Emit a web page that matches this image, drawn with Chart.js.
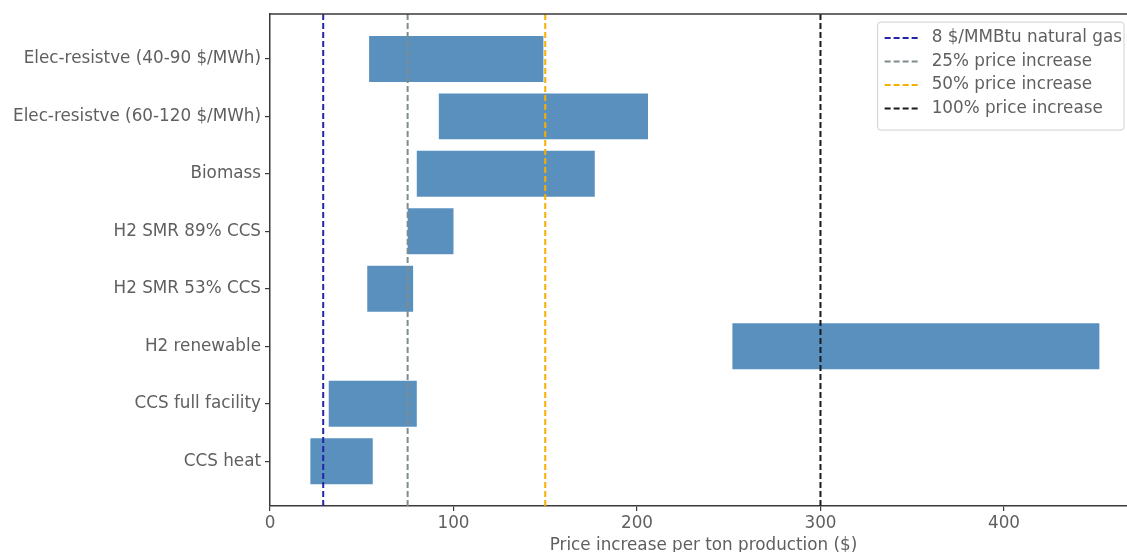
<!DOCTYPE html>
<html>
<head>
<meta charset="utf-8">
<script src="https://cdn.jsdelivr.net/npm/chart.js@4.4.1/dist/chart.umd.min.js"></script>
<style>
html,body{margin:0;padding:0;background:#fff;overflow:hidden;width:1127px;height:552px;}
canvas{display:block;}
</style>
</head>
<body>
<canvas id="c" width="1150" height="558"></canvas>
<script>
const categories = [
  'Elec-resistve (40-90 $/MWh)',
  'Elec-resistve (60-120 $/MWh)',
  'Biomass',
  'H2 SMR 89% CCS',
  'H2 SMR 53% CCS',
  'H2 renewable',
  'CCS full facility',
  'CCS heat'
];
const lowValues  = [54, 92, 80, 75, 53, 252, 32, 22];
const highValues = [149, 206, 177, 100, 78, 452, 80, 56];

const refLabels = ['8 $/MMBtu natural gas', '25% price increase', '50% price increase', '100% price increase'];
const refValues = [29, 75, 150, 300];
const refColors = ['#2424a8', '#7f8c8d', '#f5b000', '#1a1a1a'];

const xTicks = [0, 100, 200, 300, 400];
const xMin = 0, xMax = 472.5;
const yMin = -0.78, yMax = categories.length - 1 + 0.78;

const FONT = 'DejaVu Sans';
const FS = 16.8;
const TXT = '#5f5f5f';
const FRAME = '#3a3a3a';

const barData = categories.map((c, i) => ({ y: i, x: [lowValues[i], highValues[i]] }));

const lineSets = refValues.map((v, k) => ({
  type: 'line',
  label: refLabels[k],
  data: [{ x: v, y: yMin }, { x: v, y: yMax }],
  borderColor: refColors[k],
  borderWidth: 2,
  borderDash: [6, 3],
  pointRadius: 0,
  fill: false,
  order: 0
}));

const framePlugin = {
  id: 'frameLegend',
  afterDatasetsDraw(chart) {
    const { ctx, chartArea } = chart;
    ctx.save();
    ctx.strokeStyle = FRAME;
    ctx.lineWidth = 1.5;
    ctx.beginPath();
    ctx.moveTo(chartArea.left, chartArea.top);
    ctx.lineTo(chartArea.right, chartArea.top);
    ctx.lineTo(chartArea.right, chartArea.bottom);
    ctx.stroke();

    // legend
    ctx.font = FS + 'px ' + FONT;
    const lineLen = 35, padL = 7, gap = 12, padR = 2, rowH = 23.5;
    let maxW = 0;
    refLabels.forEach(t => { maxW = Math.max(maxW, ctx.measureText(t).width); });
    const w = padL + lineLen + gap + maxW + padR;
    const h = 14 + rowH * refLabels.length;
    const bx = chartArea.right - 13 - w;
    const by = chartArea.top + 8;
    ctx.fillStyle = 'rgba(255,255,255,0.85)';
    ctx.strokeStyle = '#d0d0d0';
    ctx.lineWidth = 1;
    ctx.beginPath();
    ctx.roundRect(bx, by, w, h, 3);
    ctx.fill();
    ctx.stroke();
    ctx.textBaseline = 'middle';
    ctx.textAlign = 'left';
    refLabels.forEach((t, k) => {
      const cy = by + 16 + k * rowH;
      ctx.strokeStyle = refColors[k];
      ctx.lineWidth = 2;
      ctx.setLineDash([6, 3]);
      ctx.beginPath();
      ctx.moveTo(bx + padL, cy);
      ctx.lineTo(bx + padL + lineLen, cy);
      ctx.stroke();
      ctx.setLineDash([]);
      ctx.fillStyle = TXT;
      ctx.fillText(t, bx + padL + lineLen + gap, cy);
    });
    ctx.restore();
  }
};

new Chart(document.getElementById('c'), {
  type: 'bar',
  data: {
    datasets: [
      {
        label: 'range',
        data: barData,
        indexAxis: 'y',
        backgroundColor: '#5a90be',
        borderWidth: 0,
        categoryPercentage: 1,
        barPercentage: 0.8,
        order: 1
      },
      ...lineSets
    ]
  },
  options: {
    responsive: false,
    animation: false,
    indexAxis: 'y',
    layout: { padding: { top: 12, right: 13, left: 0, bottom: 0 } },
    plugins: {
      legend: { display: false },
      tooltip: { enabled: false }
    },
    scales: {
      x: {
        type: 'linear',
        position: 'bottom',
        offset: false,
        min: xMin,
        max: xMax,
        afterBuildTicks(scale) { scale.ticks = xTicks.map(v => ({ value: v })); },
        afterFit(scale) { scale.height = 52; },
        grid: { display: true, offset: false, drawOnChartArea: false, drawTicks: true, tickLength: 5, color: FRAME, lineWidth: 1.2 },
        border: { display: true, color: FRAME, width: 1.5 },
        ticks: { color: TXT, font: { family: FONT, size: FS }, padding: 3 },
        title: { display: true, text: 'Price increase per ton production ($)', color: TXT, font: { family: FONT, size: FS }, padding: { top: 0, bottom: 2 } }
      },
      y: {
        type: 'linear',
        reverse: true,
        offset: false,
        min: yMin,
        max: yMax,
        afterBuildTicks(scale) { scale.ticks = categories.map((c, i) => ({ value: i })); },
        afterFit(scale) { scale.width = 270; },
        grid: { display: true, offset: false, drawOnChartArea: false, drawTicks: true, tickLength: 5, color: FRAME, lineWidth: 1.2 },
        border: { display: true, color: FRAME, width: 1.5 },
        ticks: { color: TXT, font: { family: FONT, size: FS }, padding: 4, callback: (v) => categories[v] }
      }
    }
  },
  plugins: [framePlugin]
});
</script>
</body>
</html>
